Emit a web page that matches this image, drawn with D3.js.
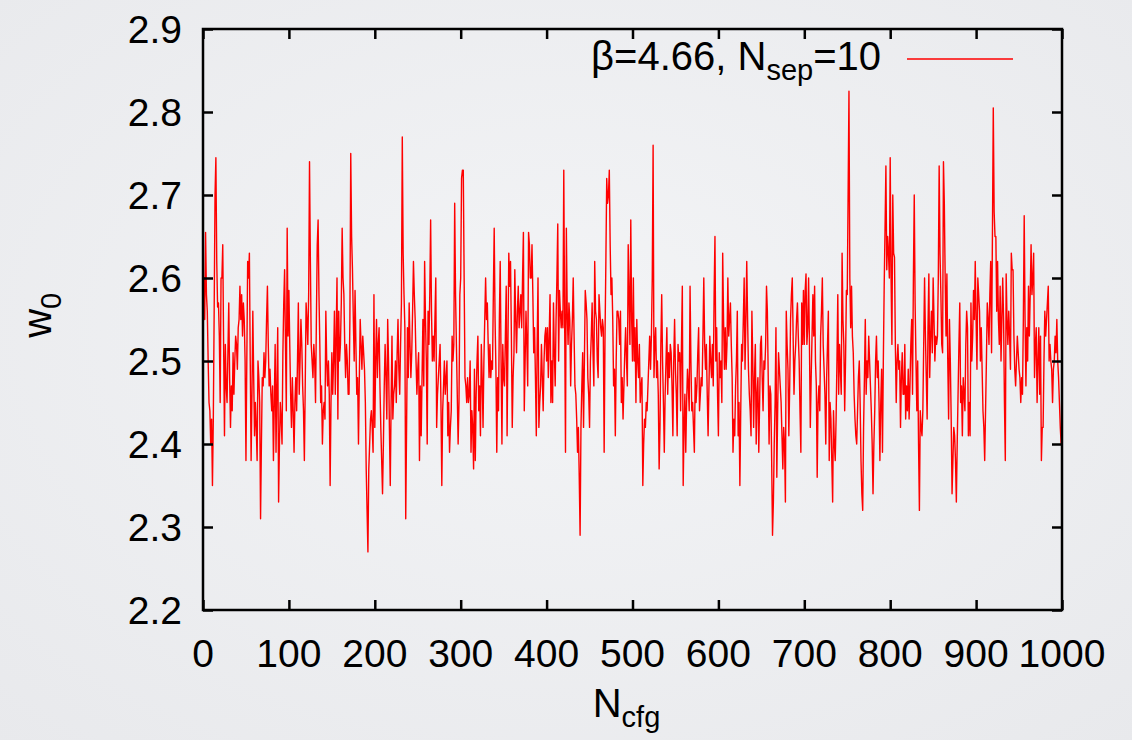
<!DOCTYPE html>
<meta charset="utf-8">
<style>
    body { margin: 0; }
    svg { display: block; font-family: "Liberation Sans", Arial, Helvetica, sans-serif; }
    .tickLabel { font-size: 39px; fill: #000; }
</style>
<body>
<script src="https://cdn.jsdelivr.net/npm/d3@7"></script>
<script>
// w0 per configuration (configs 0..999)
const w0Values = [
  2.56,2.60,2.55,2.655,2.58,2.56,2.50,2.45,2.44,2.40,
  2.43,2.35,2.43,2.56,2.70,2.745,2.62,2.565,2.57,2.53,
  2.45,2.60,2.60,2.64,2.52,2.41,2.52,2.47,2.45,2.51,
  2.57,2.48,2.42,2.47,2.44,2.51,2.46,2.50,2.53,2.52,
  2.49,2.54,2.55,2.59,2.55,2.58,2.53,2.57,2.55,2.50,
  2.38,2.50,2.62,2.60,2.63,2.50,2.38,2.46,2.56,2.48,
  2.41,2.45,2.42,2.38,2.50,2.48,2.45,2.31,2.40,2.48,
  2.47,2.51,2.48,2.50,2.55,2.59,2.52,2.47,2.49,2.46,
  2.44,2.47,2.38,2.45,2.52,2.39,2.47,2.54,2.33,2.40,
  2.45,2.43,2.40,2.51,2.57,2.61,2.52,2.44,2.66,2.53,
  2.585,2.52,2.46,2.42,2.48,2.44,2.39,2.45,2.48,2.44,
  2.50,2.57,2.46,2.50,2.55,2.52,2.47,2.44,2.38,2.47,
  2.57,2.55,2.52,2.58,2.74,2.62,2.52,2.50,2.48,2.52,
  2.50,2.45,2.55,2.64,2.67,2.58,2.52,2.45,2.47,2.40,
  2.44,2.45,2.43,2.56,2.50,2.47,2.50,2.46,2.35,2.45,
  2.51,2.46,2.50,2.56,2.46,2.53,2.60,2.43,2.56,2.50,
  2.52,2.57,2.66,2.60,2.58,2.52,2.48,2.52,2.50,2.46,
  2.46,2.55,2.75,2.65,2.61,2.55,2.50,2.585,2.52,2.46,
  2.48,2.40,2.48,2.55,2.52,2.49,2.53,2.51,2.49,2.45,
  2.37,2.32,2.27,2.37,2.40,2.43,2.44,2.42,2.39,2.58,
  2.42,2.50,2.55,2.48,2.52,2.54,2.47,2.42,2.38,2.34,
  2.40,2.47,2.52,2.48,2.43,2.55,2.50,2.42,2.35,2.45,
  2.53,2.43,2.46,2.47,2.50,2.45,2.51,2.55,2.49,2.46,
  2.52,2.57,2.77,2.63,2.58,2.54,2.31,2.42,2.54,2.48,
  2.57,2.52,2.48,2.51,2.56,2.62,2.58,2.55,2.50,2.46,
  2.49,2.51,2.38,2.47,2.41,2.48,2.55,2.47,2.62,2.55,
  2.50,2.40,2.56,2.52,2.58,2.67,2.56,2.50,2.53,2.50,
  2.55,2.60,2.42,2.46,2.48,2.50,2.52,2.45,2.35,2.44,
  2.47,2.50,2.46,2.48,2.50,2.41,2.45,2.39,2.42,2.44,
  2.53,2.50,2.52,2.69,2.58,2.52,2.46,2.40,2.45,2.58,
  2.60,2.72,2.73,2.73,2.60,2.48,2.47,2.45,2.48,2.45,
  2.46,2.50,2.39,2.44,2.42,2.37,2.49,2.38,2.46,2.50,
  2.53,2.44,2.47,2.41,2.52,2.48,2.42,2.50,2.55,2.60,
  2.55,2.57,2.52,2.48,2.52,2.48,2.50,2.49,2.58,2.66,
  2.55,2.49,2.39,2.48,2.44,2.55,2.62,2.50,2.40,2.52,
  2.48,2.47,2.53,2.59,2.41,2.52,2.63,2.59,2.62,2.53,
  2.42,2.48,2.51,2.61,2.55,2.51,2.56,2.59,2.54,2.56,
  2.58,2.54,2.60,2.655,2.44,2.50,2.56,2.52,2.47,2.655,
  2.64,2.60,2.60,2.64,2.58,2.51,2.54,2.48,2.41,2.52,
  2.60,2.42,2.45,2.47,2.52,2.48,2.44,2.50,2.53,2.54,
  2.50,2.54,2.48,2.53,2.58,2.45,2.50,2.45,2.57,2.51,
  2.47,2.55,2.60,2.665,2.50,2.585,2.56,2.54,2.56,2.54,
  2.73,2.55,2.39,2.66,2.56,2.52,2.57,2.55,2.47,2.52,
  2.55,2.60,2.53,2.47,2.46,2.43,2.39,2.42,2.36,2.29,
  2.42,2.47,2.51,2.42,2.50,2.585,2.57,2.55,2.48,2.46,
  2.42,2.50,2.53,2.57,2.51,2.47,2.62,2.56,2.55,2.50,
  2.48,2.58,2.56,2.54,2.53,2.55,2.54,2.39,2.53,2.62,
  2.72,2.69,2.70,2.73,2.64,2.58,2.60,2.55,2.47,2.49,
  2.41,2.50,2.56,2.56,2.55,2.52,2.56,2.45,2.48,2.43,
  2.47,2.51,2.54,2.50,2.47,2.64,2.58,2.52,2.67,2.55,
  2.50,2.60,2.50,2.54,2.45,2.55,2.50,2.48,2.52,2.45,
  2.47,2.48,2.35,2.40,2.43,2.42,2.45,2.44,2.47,2.50,
  2.53,2.49,2.53,2.60,2.76,2.48,2.52,2.54,2.48,2.50,
  2.46,2.37,2.42,2.52,2.58,2.50,2.45,2.39,2.46,2.50,
  2.54,2.46,2.51,2.48,2.52,2.51,2.47,2.41,2.50,2.55,
  2.49,2.46,2.41,2.52,2.50,2.51,2.44,2.52,2.59,2.35,
  2.42,2.46,2.39,2.45,2.49,2.47,2.44,2.59,2.50,2.44,
  2.45,2.42,2.39,2.48,2.45,2.47,2.51,2.54,2.44,2.46,
  2.48,2.47,2.53,2.60,2.52,2.49,2.52,2.46,2.41,2.47,
  2.53,2.50,2.48,2.52,2.47,2.58,2.65,2.50,2.54,2.46,
  2.41,2.51,2.48,2.50,2.45,2.63,2.55,2.49,2.54,2.49,
  2.52,2.60,2.53,2.55,2.57,2.52,2.48,2.39,2.43,2.41,
  2.47,2.50,2.56,2.41,2.45,2.35,2.44,2.52,2.50,2.55,
  2.60,2.49,2.55,2.62,2.55,2.49,2.46,2.44,2.41,2.56,
  2.50,2.42,2.48,2.52,2.40,2.46,2.48,2.39,2.45,2.52,
  2.53,2.48,2.44,2.50,2.49,2.52,2.59,2.56,2.48,2.40,
  2.47,2.46,2.38,2.29,2.33,2.40,2.45,2.54,2.36,2.44,
  2.51,2.49,2.47,2.45,2.41,2.37,2.42,2.40,2.33,2.56,
  2.52,2.49,2.41,2.47,2.55,2.58,2.60,2.53,2.46,2.50,
  2.52,2.55,2.57,2.53,2.50,2.44,2.39,2.57,2.52,2.585,
  2.52,2.585,2.605,2.52,2.54,2.60,2.52,2.42,2.48,2.53,
  2.58,2.53,2.59,2.50,2.47,2.36,2.45,2.47,2.44,2.53,
  2.56,2.60,2.52,2.49,2.46,2.40,2.48,2.52,2.56,2.38,
  2.45,2.43,2.38,2.33,2.44,2.40,2.38,2.43,2.50,2.58,
  2.46,2.52,2.49,2.46,2.63,2.55,2.52,2.44,2.50,2.585,
  2.58,2.70,2.825,2.60,2.54,2.59,2.53,2.51,2.46,2.43,
  2.41,2.40,2.44,2.48,2.50,2.45,2.38,2.34,2.32,2.42,
  2.48,2.55,2.46,2.50,2.48,2.53,2.50,2.47,2.44,2.40,
  2.34,2.40,2.44,2.50,2.53,2.48,2.50,2.45,2.38,2.45,
  2.49,2.39,2.50,2.59,2.66,2.735,2.61,2.65,2.63,2.60,
  2.745,2.60,2.52,2.70,2.63,2.625,2.52,2.45,2.50,2.52,
  2.49,2.50,2.42,2.48,2.51,2.46,2.46,2.52,2.43,2.47,
  2.44,2.49,2.43,2.47,2.52,2.55,2.46,2.60,2.70,2.57,
  2.50,2.44,2.50,2.40,2.32,2.44,2.42,2.41,2.44,2.52,
  2.60,2.53,2.48,2.43,2.54,2.605,2.48,2.53,2.56,2.51,
  2.60,2.55,2.50,2.53,2.52,2.53,2.60,2.735,2.63,2.58,
  2.52,2.51,2.74,2.69,2.60,2.53,2.605,2.50,2.43,2.55,
  2.50,2.43,2.34,2.38,2.42,2.41,2.38,2.33,2.40,2.46,
  2.52,2.57,2.45,2.47,2.41,2.48,2.46,2.44,2.52,2.56,
  2.54,2.41,2.45,2.41,2.57,2.50,2.53,2.585,2.55,2.62,
  2.55,2.49,2.60,2.58,2.56,2.50,2.54,2.49,2.44,2.42,
  2.38,2.44,2.50,2.57,2.55,2.52,2.58,2.62,2.51,2.65,
  2.805,2.68,2.65,2.65,2.56,2.62,2.55,2.52,2.59,2.50,
  2.55,2.60,2.55,2.45,2.38,2.605,2.55,2.52,2.56,2.53,
  2.49,2.63,2.61,2.61,2.53,2.49,2.47,2.50,2.53,2.51,
  2.49,2.48,2.45,2.48,2.46,2.55,2.675,2.55,2.47,2.54,
  2.50,2.59,2.53,2.58,2.64,2.58,2.60,2.63,2.48,2.52,
  2.54,2.45,2.50,2.54,2.46,2.53,2.38,2.42,2.42,2.50,
  2.56,2.53,2.55,2.57,2.59,2.50,2.52,2.50,2.49,2.45,
  2.49,2.50,2.53,2.51,2.55,2.50,2.48,2.45,2.42,2.40
];

const xTicks = [0, 100, 200, 300, 400, 500, 600, 700, 800, 900, 1000];
const yTicks = [2.2, 2.3, 2.4, 2.5, 2.6, 2.7, 2.8, 2.9];
const xDomain = [0, 1000];
const yDomain = [2.2, 2.9];
const seriesLabel = { main: "β=4.66, N", sub: "sep", tail: "=10" };

const width = 1132, height = 740;
const plot = { left: 203, right: 1062, top: 29, bottom: 610 };

const svg = d3.select("body").append("svg")
    .attr("width", width)
    .attr("height", height);

// soft grey backdrop, a bit lighter in the middle
const defs = svg.append("defs");
const grad = defs.append("radialGradient").attr("id", "bg")
    .attr("cx", "50%").attr("cy", "45%").attr("r", "75%");
grad.append("stop").attr("offset", "0%").attr("stop-color", "#f3f4f6");
grad.append("stop").attr("offset", "100%").attr("stop-color", "#e8e9ec");
svg.append("rect").attr("width", width).attr("height", height).attr("fill", "url(#bg)");

let x = d3.scaleLinear().domain(xDomain).range([plot.left, plot.right]);
let y = d3.scaleLinear().domain(yDomain).range([plot.bottom, plot.top]);

// the data line
let line = d3.line()
    .x((d, i) => x(i))
    .y(d => y(d));

svg.append("path")
    .datum(w0Values)
    .attr("fill", "none")
    .attr("stroke", "#ff0000")
    .attr("stroke-width", 1.4)
    .attr("stroke-linejoin", "round")
    .attr("d", line);

// gnuplot-like frame with inward ticks on all four sides
const tickLen = 10;
function styleAxis(g) {
    g.select(".domain").remove();
    g.selectAll(".tick line").attr("stroke", "#000").attr("stroke-width", 2.5);
}

svg.append("g")
    .attr("transform", "translate(0," + plot.bottom + ")")
    .call(d3.axisBottom(x).tickValues(xTicks).tickSize(-tickLen).tickFormat(""))
    .call(styleAxis);
svg.append("g")
    .attr("transform", "translate(0," + plot.top + ")")
    .call(d3.axisTop(x).tickValues(xTicks).tickSize(-tickLen).tickFormat(""))
    .call(styleAxis);
svg.append("g")
    .attr("transform", "translate(" + plot.left + ",0)")
    .call(d3.axisLeft(y).tickValues(yTicks).tickSize(-tickLen).tickFormat(""))
    .call(styleAxis);
svg.append("g")
    .attr("transform", "translate(" + plot.right + ",0)")
    .call(d3.axisRight(y).tickValues(yTicks).tickSize(-tickLen).tickFormat(""))
    .call(styleAxis);

svg.append("rect")
    .attr("x", plot.left).attr("y", plot.top)
    .attr("width", plot.right - plot.left).attr("height", plot.bottom - plot.top)
    .attr("fill", "none").attr("stroke", "#000").attr("stroke-width", 2.5);

// tick labels
svg.append("g").selectAll("text")
    .data(xTicks)
    .join("text")
    .attr("class", "tickLabel")
    .attr("x", d => x(d))
    .attr("y", plot.bottom + 57)
    .attr("text-anchor", "middle")
    .text(d => d);

svg.append("g").selectAll("text")
    .data(yTicks)
    .join("text")
    .attr("class", "tickLabel")
    .attr("x", plot.left - 21)
    .attr("y", d => y(d) + 14)
    .attr("text-anchor", "end")
    .text(d => d3.format(".1f")(d));

// axis titles
let xTitle = svg.append("text")
    .attr("x", x(500) - 6)
    .attr("y", 717)
    .attr("text-anchor", "middle")
    .style("font-size", "40px");
xTitle.append("tspan").text("N");
xTitle.append("tspan").attr("dy", 10).style("font-size", "29px").text("cfg");

let yTitle = svg.append("text")
    .attr("transform", "translate(51," + y(2.555) + ") rotate(-90)")
    .attr("text-anchor", "middle")
    .style("font-size", "40px");
yTitle.append("tspan").text("w");
yTitle.append("tspan").attr("dy", 10).style("font-size", "29px").text("0");

// legend
let legend = svg.append("text")
    .attr("x", 881)
    .attr("y", 70)
    .attr("text-anchor", "end")
    .style("font-size", "40px");
legend.append("tspan").text(seriesLabel.main);
legend.append("tspan").attr("dy", 10).style("font-size", "29px").text(seriesLabel.sub);
legend.append("tspan").attr("dy", -10).text(seriesLabel.tail);

svg.append("line")
    .attr("x1", 907).attr("x2", 1013)
    .attr("y1", 59).attr("y2", 59)
    .attr("stroke", "#ff0000").attr("stroke-width", 1.4);
</script>
</body>
